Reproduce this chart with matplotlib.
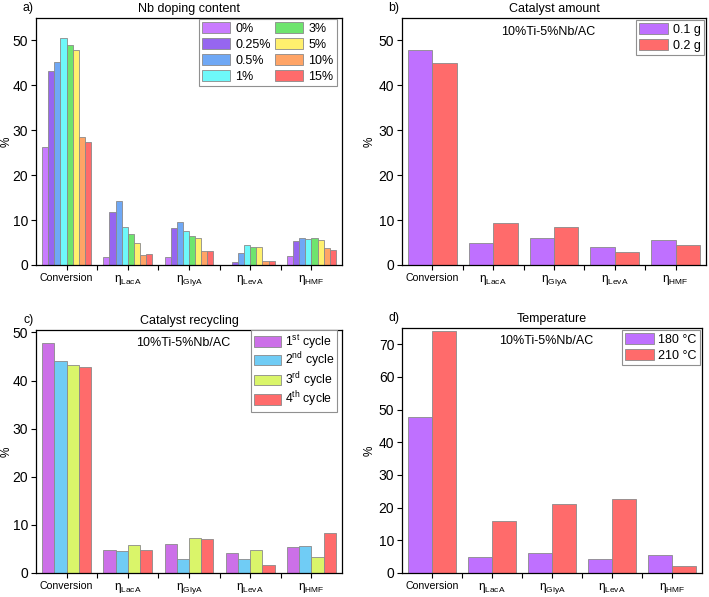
import matplotlib
matplotlib.use("Agg")
import matplotlib.pyplot as plt
import numpy as np

plt.rcParams['font.family'] = ['Liberation Sans', 'DejaVu Sans']
plt.rcParams['mathtext.fontset'] = 'custom'
plt.rcParams['mathtext.rm'] = 'Liberation Sans'
plt.rcParams['mathtext.it'] = 'Liberation Sans:italic'

categories = ['Conversion', r'$\mathregular{\eta_{LacA}}$', r'$\mathregular{\eta_{GlyA}}$',
              r'$\mathregular{\eta_{LevA}}$', r'$\mathregular{\eta_{HMF}}$']

# a) Nb doping content
nb_labels = ['0%', '0.25%', '0.5%', '1%', '3%', '5%', '10%', '15%']
nb_values = [
    [26.2, 1.8, 1.8, 0.0, 2.0],
    [43.2, 11.8, 8.2, 0.6, 5.4],
    [45.2, 14.2, 9.6, 2.7, 6.0],
    [50.5, 8.5, 7.5, 4.4, 5.9],
    [49.0, 6.8, 6.4, 3.9, 6.1],
    [47.8, 4.8, 6.0, 4.1, 5.5],
    [28.5, 2.3, 3.2, 0.8, 3.8],
    [27.5, 2.4, 3.2, 0.8, 3.4],
]
nb_colors = ['#C97BFF', '#9666F0', '#6FA8F5', '#6EF8FA', '#6EE46E', '#FFF06E', '#FFA466', '#FF6B6B']

# b) Catalyst amount
amount_labels = ['0.1 g', '0.2 g']
amount_values = [
    [47.8, 4.8, 6.0, 4.1, 5.5],
    [45.0, 9.3, 8.4, 3.0, 4.5],
]

# c) Catalyst recycling
cycle_labels = [r'1$^{\mathregular{st}}$ cycle', r'2$^{\mathregular{nd}}$ cycle',
                r'3$^{\mathregular{rd}}$ cycle', r'4$^{\mathregular{th}}$ cycle']
cycle_values = [
    [47.8, 4.8, 6.0, 4.1, 5.5],
    [44.1, 4.6, 3.0, 3.0, 5.7],
    [43.2, 5.8, 7.3, 4.7, 3.3],
    [42.8, 4.7, 7.0, 1.6, 8.3],
]
cycle_colors = ['#CC70E8', '#70CCF5', '#DAF56A', '#FF6B6B']

# d) Temperature
temp_labels = ['180 °C', '210 °C']
temp_values = [
    [47.8, 4.8, 6.0, 4.2, 5.6],
    [74.0, 16.0, 21.0, 22.8, 2.0],
]
pair_colors = ['#BF70FF', '#FF6B6B']

fig = plt.figure(figsize=(7.09, 5.97), dpi=100)
W, H = 709, 597


def make_ax(l, r, t, b):
    return fig.add_axes([l / W, 1 - b / H, (r - l) / W, (b - t) / H])


def grouped(ax, values, colors, labels, ylim, yticks, title, tag, ncol=1, note=False,
            ylab_px=-23, leg_kw=None):
    n = len(values)
    x = np.arange(len(categories))
    w = 0.8 / n
    for i, (vals, col, lab) in enumerate(zip(values, colors, labels)):
        ax.bar(x - 0.4 + w * (i + 0.5), vals, width=w, color=col, edgecolor='#8a8a8a',
               linewidth=0.6, label=lab)
    ax.set_xlim(-0.5, 4.5)
    ax.set_ylim(*ylim)
    ax.set_yticks(yticks)
    ax.set_xticks(x)
    ax.set_xticklabels(categories)
    for i, t in enumerate(ax.get_xticklabels()):
        t.set_fontsize(7.6 if i == 0 else 8.6)
    ax.set_xticks(np.arange(0.5, 4.5, 1.0), minor=True)
    ax.tick_params(axis='both', which='both', direction='out', length=3.5, width=0.8)
    ax.tick_params(axis='x', pad=2.5)
    ax.tick_params(axis='y', labelsize=10, pad=2)
    ax.set_ylabel('%', fontsize=8.5)
    bbox = ax.get_position()
    ax.yaxis.set_label_coords(ylab_px / (bbox.width * W), 0.5)
    for s in ax.spines.values():
        s.set_linewidth(0.9)
    ax.set_title(title, fontsize=9, pad=4)
    ax.text(-0.008, 1.015, tag, transform=ax.transAxes, fontsize=8.8, ha='right', va='bottom')
    if note:
        ax.text(0.48, 0.945, '10%Ti-5%Nb/AC', transform=ax.transAxes, fontsize=9,
                ha='center', va='center')
    kw = dict(loc='upper right', ncol=ncol, fontsize=9, frameon=True, fancybox=False,
              edgecolor='#909090', framealpha=1, handlelength=2.3, handleheight=1.0,
              labelspacing=0.25, handletextpad=0.4, columnspacing=0.3, borderpad=0.25,
              borderaxespad=0.15)
    if leg_kw:
        kw.update(leg_kw)
    leg = ax.legend(**kw)
    leg.get_frame().set_linewidth(0.8)


ax_a = make_ax(36, 342, 18, 265)
grouped(ax_a, nb_values, nb_colors, nb_labels, (0, 55), range(0, 51, 10),
        'Nb doping content', 'a)', ncol=2, leg_kw=dict(bbox_to_anchor=(0.985, 1.0),
                                                       borderaxespad=0.05))

ax_b = make_ax(402, 706, 18, 265)
grouped(ax_b, amount_values, pair_colors, amount_labels, (0, 55), range(0, 51, 10),
        'Catalyst amount', 'b)', note=True, ylab_px=-26)

ax_c = make_ax(36, 342, 330, 573)
grouped(ax_c, cycle_values, cycle_colors, cycle_labels, (0, 50.5), range(0, 51, 10),
        'Catalyst recycling', 'c)', note=True,
        leg_kw=dict(labelspacing=0.0, borderpad=0.2, handleheight=0.9, handlelength=2.2,
                    fontsize=8.8, bbox_to_anchor=(0.985, 1.0), borderaxespad=0.0))

ax_d = make_ax(402, 702, 328, 573)
grouped(ax_d, temp_values, pair_colors, temp_labels, (0, 75), range(0, 71, 10),
        'Temperature', 'd)', note=True, ylab_px=-26)

fig.savefig('out.png', dpi=100)
